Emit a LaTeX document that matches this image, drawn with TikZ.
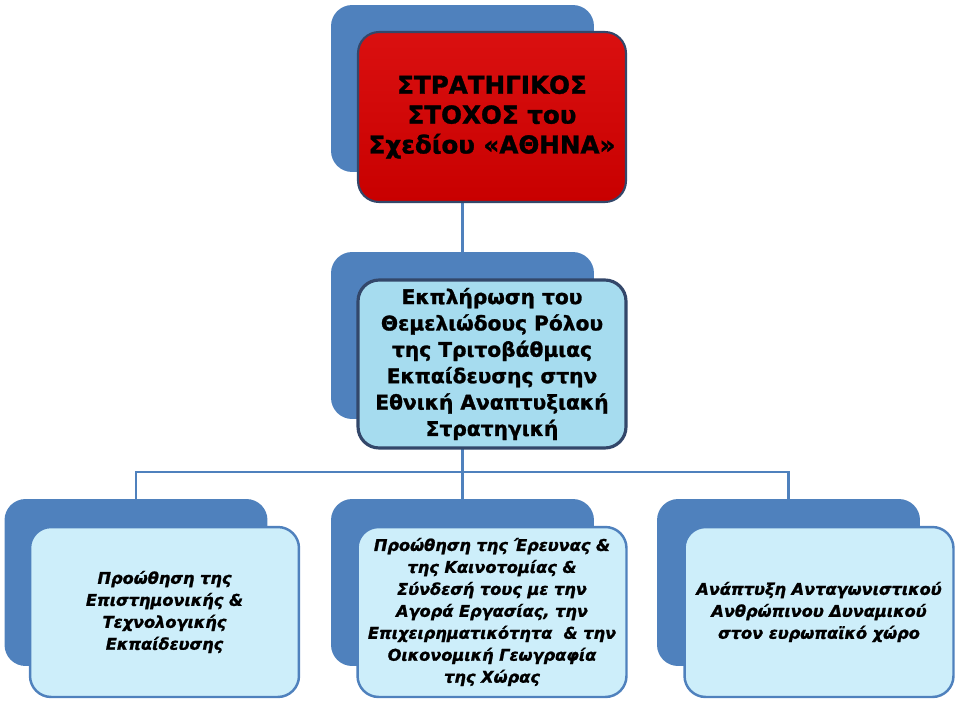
\documentclass[tikz,border=0pt]{standalone}
\usepackage{fontspec}
\setmainfont{DejaVu Sans}[BoldFeatures={FakeBold=1.3},BoldItalicFeatures={FakeBold=1.3}]
\usetikzlibrary{calc}
\definecolor{backblue}{HTML}{4F81BD}
\definecolor{goalred}{HTML}{C80000}
\definecolor{goaltop}{HTML}{DA1010}
\definecolor{midfill}{HTML}{A6DCEF}
\definecolor{lowfill}{HTML}{CDEEFA}
\definecolor{darkrim}{HTML}{33476A}
\tikzset{
  backbox/.style={rectangle, rounded corners=12pt, fill=backblue, draw=none,
    minimum width=5.26cm, minimum height=3.34cm},
  goalbox/.style={rectangle, rounded corners=12pt, draw=darkrim, line width=1.2pt,
    top color=goaltop, bottom color=goalred, align=center,
    minimum width=5.36cm, minimum height=3.4cm,
    font=\fontsize{14}{17}\selectfont\bfseries},
  rolebox/.style={rectangle, rounded corners=12pt, draw=darkrim, line width=1.8pt,
    fill=midfill, align=center, minimum width=5.36cm, minimum height=3.36cm,
    font=\fontsize{11.5}{15}\selectfont\bfseries},
  aimbox/.style={rectangle, rounded corners=12pt, draw=backblue, line width=1.4pt,
    fill=lowfill, align=center, minimum width=5.38cm, minimum height=3.4cm,
    font=\fontsize{9.2}{12.5}\selectfont\bfseries\itshape},
  link/.style={draw=backblue, line width=1.3pt}
}
\begin{document}
\begin{tikzpicture}[x=0.02cm,y=-0.02cm]
\useasboundingbox (0,0) rectangle (959,703);

\node[backbox] (goalback) at (462.5,88.5) {};
\node[backbox] (roleback) at (462.5,335.5) {};
\node[backbox] (leftback) at (136,582.5) {};
\node[backbox] (midback) at (462.5,582.5) {};
\node[backbox] (rightback) at (788.5,582.5) {};

\coordinate (bus) at (462.5,472);
\draw[link] (goalback |- 0,202) -- (roleback.north);
\draw[link] (roleback |- 0,448) -- (bus);
\draw[link] (leftback.north) |- (bus) -| (rightback.north);
\draw[link] (bus) -- (midback.north);

\node[goalbox] (goal) at (492,117) {ΣΤΡΑΤΗΓΙΚΟΣ\\ΣΤΟΧΟΣ του\\Σχεδίου «ΑΘΗΝΑ»};
\node[rolebox] (role) at (492,364) {Εκπλήρωση του\\Θεμελιώδους Ρόλου\\της Τριτοβάθμιας\\Εκπαίδευσης στην\\Εθνική Αναπτυξιακή\\Στρατηγική};
\node[aimbox] (left) at (164.5,612) {Προώθηση της\\Επιστημονικής \&\\Τεχνολογικής\\Εκπαίδευσης};
\node[aimbox] (mid) at (492,612) {Προώθηση της Έρευνας \&\\της Καινοτομίας \&\\Σύνδεσή τους με την\\Αγορά Εργασίας, την\\Επιχειρηματικότητα \ \& την\\Οικονομική Γεωγραφία\\της Χώρας};
\node[aimbox] (right) at (819,612) {Ανάπτυξη Ανταγωνιστικού\\Ανθρώπινου Δυναμικού\\στον ευρωπαϊκό χώρο};
\end{tikzpicture}
\end{document}
